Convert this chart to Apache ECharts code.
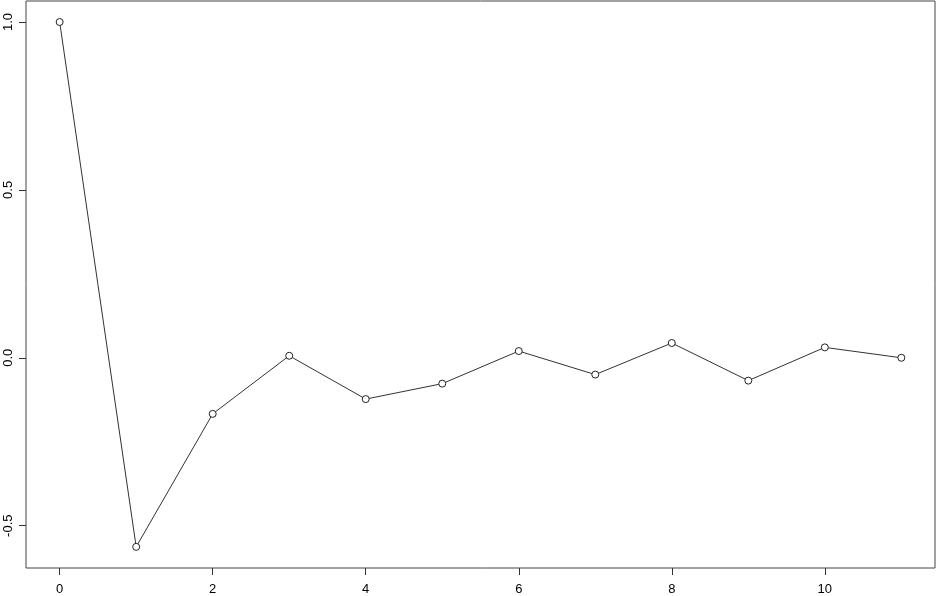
<!DOCTYPE html>
<html>
<head>
<meta charset="utf-8">
<script src="https://cdn.jsdelivr.net/npm/echarts@6/dist/echarts.min.js"></script>
<style>
  html, body { margin: 0; padding: 0; background: #fff; }
  #chart { width: 938px; height: 596px; }
</style>
</head>
<body>
<div id="chart"></div>
<script>
// lag values and autocorrelation
var lags = [0, 1, 2, 3, 4, 5, 6, 7, 8, 9, 10, 11];
var acf = [1.0, -0.563, -0.167, 0.006, -0.123, -0.077, 0.020, -0.050, 0.044, -0.068, 0.031, 0.000];
var xTicks = [0, 2, 4, 6, 8, 10];
var yTicks = [-0.5, 0.0, 0.5, 1.0];

var points = lags.map(function (l, i) { return [l, acf[i]]; });

var chart = echarts.init(document.getElementById('chart'));
var font = 'Liberation Sans, Arial, Helvetica, sans-serif';

chart.setOption({
  animation: false,
  grid: {
    left: 26, top: 1, right: 3, bottom: 28,
    show: true, borderColor: '#444', borderWidth: 1, backgroundColor: '#fff'
  },
  xAxis: {
    type: 'value',
    min: -0.44, max: 11.44,
    axisLine: { show: false, onZero: false },
    splitLine: { show: false },
    axisTick: { show: true, length: 7, lineStyle: { color: '#333' }, customValues: xTicks },
    axisLabel: {
      customValues: xTicks, margin: 15,
      color: '#000', fontSize: 13, fontFamily: font,
      formatter: function (v) { return String(v); }
    }
  },
  yAxis: {
    type: 'value',
    min: -0.626, max: 1.0625,
    axisLine: { show: false, onZero: false },
    splitLine: { show: false },
    axisTick: { show: true, length: 7, lineStyle: { color: '#333' }, customValues: yTicks },
    axisLabel: {
      customValues: yTicks, margin: 11, rotate: 90,
      color: '#000', fontSize: 13, fontFamily: font,
      formatter: function (v) { return v.toFixed(1); }
    }
  },
  series: [{
    type: 'line',
    data: points,
    symbol: 'circle',
    symbolSize: 7,
    showAllSymbol: true,
    lineStyle: { color: '#333', width: 1 },
    itemStyle: { color: '#fff', borderColor: '#222', borderWidth: 1 }
  }]
});
</script>
</body>
</html>
